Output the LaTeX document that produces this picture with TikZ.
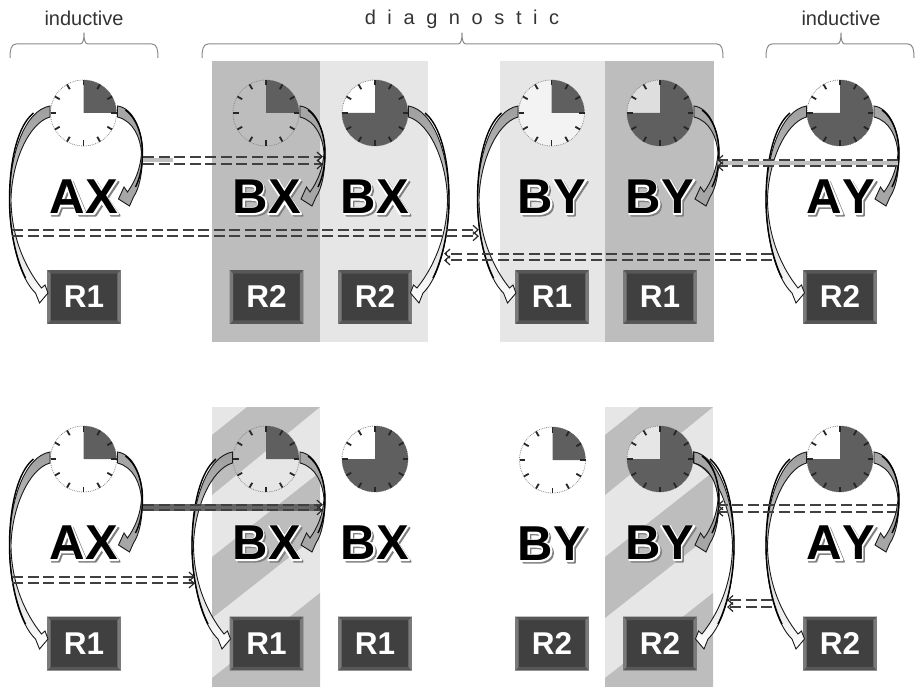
\documentclass[tikz,border=0pt]{standalone}
\usepackage{fontspec}
\setmainfont{Liberation Sans}[Kerning=Off]
\usetikzlibrary{calc}
\definecolor{pdark}{HTML}{BDBDBD}
\definecolor{plight}{HTML}{E6E6E6}
\definecolor{sector}{HTML}{5F5F5F}
\definecolor{ink}{HTML}{404040}
\definecolor{brc}{HTML}{8A8A8A}
\definecolor{txt}{HTML}{333333}
\def\glA{(718,0)--(561,0)--(498,163)--(212,163)--(153,0)--(0,0)--(279,716)--(432,716)--cycle (451,284)--(352,550)--(255,284)--cycle}
\def\glX{(0,0)--(245,366)--(23,716)--(192,716)--(335,489)--(475,716)--(642,716)--(419,367)--(664,0)--(489,0)--(333,247)--(176,0)--cycle}
\def\glY{(261,0)--(261,301)--(-1,716)--(168,716)--(337,433)--(502,716)--(668,716)--(406,301)--(406,0)--cycle}
\def\glB{(73,0)--(73,716)--(359,716) .. controls (520,716) and (620,650) .. (620,530) .. controls (620,460) and (585,410) .. (540,385) .. controls (620,360) and (680,300) .. (680,205) .. controls (680,70) and (570,0) .. (400,0) -- cycle (217,597)--(217,432)--(340,432) .. controls (430,432) and (472,460) .. (472,515) .. controls (472,570) and (430,597) .. (340,597) --cycle (217,306)--(217,119)--(380,119) .. controls (480,119) and (530,150) .. (530,212) .. controls (530,275) and (480,306) .. (370,306) --cycle}
\tikzset{
  clockface/.style={circle,draw=black!45,densely dotted,line width=0.8pt,minimum size=66pt,inner sep=0pt},
  tickmark/.style={black!85,line width=1.8pt},
  rbox/.style={draw=black!30,line width=0.6pt,fill=ink,text=white,minimum width=73pt,minimum height=53pt,inner sep=0pt,font=\bfseries\fontsize{31.5}{31.5}\selectfont},
  bevside/.style={fill=black!52},
  bevtop/.style={fill=black!66},
  bigletter/.style={inner sep=0pt,anchor=base,font=\bfseries\fontsize{49}{49}\selectfont},
  dl/.style={draw=ink,line width=2pt,dash pattern=on 11pt off 4.5pt},
  dltip/.style={draw=black!85,line width=1.2pt},
  brace/.style={draw=brc,line width=1pt,line join=round},
  toplabel/.style={text=txt,font=\fontsize{20}{20}\selectfont,inner sep=0pt},
  arcline/.style={draw=black!90,line width=0.9pt,line join=miter},
  arcedge/.style={draw=black,line width=1.4pt},
  shadeglyph/.style={fill=black!50,draw=black!50,line width=1.8pt,even odd rule,line join=round},
  haloglyph/.style={draw=white,line width=2.4pt,line join=round},
}
\newcommand{\clockq}[2]{%
  \node[clockface] (#1) at (#2) {};
  \begin{scope}[shift={(#1)}]
    \fill[sector] (0,0) -- (0,-33) arc[start angle=-90,end angle=0,radius=33] -- cycle;
    \foreach \a in {0,30,...,330} {\draw[tickmark] (\a:27.5) -- (\a:33);}
  \end{scope}}
\newcommand{\clockt}[2]{%
  \node[clockface] (#1) at (#2) {};
  \begin{scope}[shift={(#1)}]
    \fill[sector] (0,0) -- (0,-33) arc[start angle=-90,end angle=180,radius=33] -- cycle;
    \foreach \a in {0,30,...,330} {\draw[tickmark] (\a:27.5) -- (\a:33);}
  \end{scope}}
\newcommand{\biglet}[5]{%
  \coordinate (#1o) at (#2);
  \begin{scope}[shift={(#1o)},shift={(-34,16.9)},x=0.049pt,y=0.0471pt]
    \begin{scope}[xshift=1.8pt,yshift=-1.8pt]
      \path[shadeglyph] #3;
      \begin{scope}[xshift=35.38pt]\path[shadeglyph] #4;\end{scope}
    \end{scope}
    \path[haloglyph] #3;
    \begin{scope}[xshift=35.38pt]\path[haloglyph] #4;\end{scope}
  \end{scope}
  \node[bigletter] (#1) at ($(#1o)+(0,16.9)$) {#5};}
\newcommand{\longarc}[2]{%
  \begin{scope}[shift={(#1)},xscale=#2]
    \path[arcline,top color=black!38,bottom color=white]
      (-33.5,-7) .. controls (-58,-3) and (-74,40) .. (-74,87)
      .. controls (-74,125) and (-64,165) .. (-48,180)
      -- (-44,190) -- (-35.5,180) -- (-38.5,172) -- (-42,175)
      .. controls (-58,155) and (-72,125) .. (-72.5,87)
      .. controls (-72,50) and (-55,10) .. (-33.5,4) -- cycle;
    \draw[arcedge] (-50,0) .. controls (-65,12) and (-74,45) .. (-74,87)
      .. controls (-74,115) and (-68,145) .. (-58,165);
  \end{scope}}
\newcommand{\shortarc}[1]{%
  \begin{scope}[shift={(#1)}]
    \path[arcline,fill=black!35]
      (34,-7) .. controls (50,-5) and (59,18) .. (59,40)
      .. controls (59,60) and (56,75) .. (50,84)
      -- (46,93) -- (35,86) -- (40.5,74) -- (44,79)
      .. controls (52,68) and (57,55) .. (58,40)
      .. controls (57,25) and (50,8) .. (34,4) -- cycle;
    \draw[arcedge] (42,-3) .. controls (53,5) and (59,22) .. (59,40)
      .. controls (59,52) and (57,64) .. (52,74);
  \end{scope}}
\newcommand{\rb}[3]{%
  \node[rbox] (#1) at (#2) {#3};
  \fill[bevtop] (#1.north west) -- ++(3.5,3.5) -- ($(#1.north east)+(-3.5,3.5)$) -- (#1.north east) -- cycle;
  \fill[bevtop] (#1.south west) -- ++(3.5,-3.5) -- ($(#1.south east)+(-3.5,-3.5)$) -- (#1.south east) -- cycle;
  \fill[bevside] (#1.north west) -- ++(3.5,3.5) -- ($(#1.south west)+(3.5,-3.5)$) -- (#1.south west) -- cycle;
  \fill[bevside] (#1.north east) -- ++(-3.5,3.5) -- ($(#1.south east)+(-3.5,-3.5)$) -- (#1.south east) -- cycle;}
\newcommand{\dbl}[4]{%
  \draw[dl] ($(#1)+(0,#4)$) -- ($(#2)+(0,#4)$);
  \draw[dl] ($(#1)+(0,-#4)$) -- ($(#2)+(0,-#4)$);
  \draw[dltip] ($(#2)+(-5*#3,#4-4.5)$) -- ($(#2)+(0,#4)$) -- ($(#2)+(-5*#3,#4+4.5)$);
  \draw[dltip] ($(#2)+(-5*#3,-#4-4.5)$) -- ($(#2)+(0,-#4)$) -- ($(#2)+(-5*#3,-#4+4.5)$);}
\begin{document}
\begin{tikzpicture}[x=1pt,y=-1pt]
\useasboundingbox (0,0) rectangle (915,687);
\fill[pdark] (212,61) rectangle (320,342);
\fill[plight] (320,61) rectangle (428,342);
\fill[plight] (500,61) rectangle (605,342);
\fill[pdark] (605,61) rectangle (714,342);
\foreach \dx in {0,393} {
  \begin{scope}[xshift=\dx pt]
    \fill[plight] (212,407) rectangle (320,687);
    \fill[pdark] (212,435) -- (247,407) -- (320,407) -- (212,495) -- cycle;
    \fill[pdark] (212,557) -- (320,472) -- (320,533) -- (212,618) -- cycle;
    \fill[pdark] (212,678) -- (320,593) -- (320,687) -- (212,687) -- cycle;
  \end{scope}
}
\draw[brace] (10,58) .. controls (10,50) and (11,44) .. (16,44) -- (80,44) .. controls (83,44) and (84,40) .. (84,33) .. controls (84,40) and (85,44) .. (88,44) -- (152,44) .. controls (157,44) and (158,50) .. (158,58);
\draw[brace] (202,58) .. controls (202,50) and (203,44) .. (208,44) -- (458,44) .. controls (461,44) and (462,40) .. (462,33) .. controls (462,40) and (463,44) .. (466,44) -- (717,44) .. controls (722,44) and (723,50) .. (723,58);
\draw[brace] (766,58) .. controls (766,50) and (767,44) .. (772,44) -- (837,44) .. controls (840,44) and (841,40) .. (841,33) .. controls (841,40) and (842,44) .. (845,44) -- (908,44) .. controls (913,44) and (914,50) .. (914,58);
\node[toplabel] (t1) at (84,18.5) {inductive};
\node[toplabel] (t2) at (462,19) {\spaceskip=11.6pt\relax d i a g n o s t i c};
\node[toplabel] (t3) at (841,18.5) {inductive};
\fill[white] (375,113) -- (375,80) arc[start angle=-90,end angle=-180,radius=33] -- cycle;
\fill[plight!50!white] (551.5,113) circle[radius=33];
\fill[white!50!pdark] (660,113) -- (660,80) arc[start angle=-90,end angle=-180,radius=33] -- cycle;
\fill[white] (375,459) -- (375,426) arc[start angle=-90,end angle=-180,radius=33] -- cycle;
\fill[plight] (660,459) -- (660,426) arc[start angle=-90,end angle=-180,radius=33] -- cycle;
\clockq{c1}{83.5,113}
\clockq{c2}{266,113}
\clockt{c3}{375,113}
\clockq{c4}{551.5,113}
\clockt{c5}{660,113}
\clockt{c6}{840,113}
\clockq{c7}{83.5,459}
\clockq{c8}{266,459}
\clockt{c9}{375,459}
\clockq{c10}{552.5,460}
\clockt{c11}{660,459}
\clockt{c12}{840,459}
\biglet{l1}{84,197}{\glA}{\glX}{AX}
\biglet{l2}{267,197}{\glB}{\glX}{BX}
\biglet{l3}{375,197}{\glB}{\glX}{BX}
\biglet{l4}{552,197}{\glB}{\glY}{BY}
\biglet{l5}{660,197}{\glB}{\glY}{BY}
\biglet{l6}{841,197}{\glA}{\glY}{AY}
\biglet{l7}{84,543}{\glA}{\glX}{AX}
\biglet{l8}{267,543}{\glB}{\glX}{BX}
\biglet{l9}{375,543}{\glB}{\glX}{BX}
\biglet{l10}{552,544}{\glB}{\glY}{BY}
\biglet{l11}{660,543}{\glB}{\glY}{BY}
\biglet{l12}{841,543}{\glA}{\glY}{AY}
\rb{r1}{84,297}{R1}
\rb{r2}{266.5,297}{R2}
\rb{r3}{375,297}{R2}
\rb{r4}{552,297}{R1}
\rb{r5}{660,297}{R1}
\rb{r6}{840,297}{R2}
\rb{r7}{84,643.5}{R1}
\rb{r8}{266.5,643.5}{R1}
\rb{r9}{375,643.5}{R1}
\rb{r10}{552,643.5}{R2}
\rb{r11}{660,643.5}{R2}
\rb{r12}{840,643.5}{R2}
\longarc{c1}{1}\shortarc{c1}
\shortarc{c2}
\longarc{c3}{-1}
\longarc{c4}{1}
\shortarc{c5}
\longarc{c6}{1}\shortarc{c6}
\longarc{c7}{1}\shortarc{c7}
\longarc{c8}{1}\shortarc{c8}
\longarc{c11}{-1}\shortarc{c11}
\longarc{c12}{1}\shortarc{c12}
\coordinate (d1a) at (143,160.5); \coordinate (d1b) at (322,160.5);
\coordinate (d2a) at (12,233);    \coordinate (d2b) at (478,233);
\coordinate (d3a) at (772,257);   \coordinate (d3b) at (445,257);
\coordinate (d4a) at (898,163);   \coordinate (d4b) at (718,163);
\coordinate (d5a) at (143,507.5); \coordinate (d5b) at (322,507.5);
\coordinate (d6a) at (12,580);    \coordinate (d6b) at (194,580);
\coordinate (d7a) at (898,508.5); \coordinate (d7b) at (718,508.5);
\coordinate (d8a) at (772,603.5); \coordinate (d8b) at (728,603.5);
\fill[black!25] ($(d1a)+(0,-2)$) rectangle ++(30,4);
\fill[black!25] ($(d4a)+(0,-2)$) rectangle ++(-180,4);
\draw[black!60,line width=6.5pt] (d5a) -- ($(d5b)+(-4,0)$);
\dbl{d1a}{d1b}{1}{3.9}
\dbl{d2a}{d2b}{1}{3.2}
\dbl{d3a}{d3b}{-1}{3.4}
\dbl{d4a}{d4b}{-1}{3.2}
\dbl{d5a}{d5b}{1}{2.8}
\dbl{d6a}{d6b}{1}{3.4}
\dbl{d7a}{d7b}{-1}{3.2}
\dbl{d8a}{d8b}{-1}{3.5}
\end{tikzpicture}
\end{document}
